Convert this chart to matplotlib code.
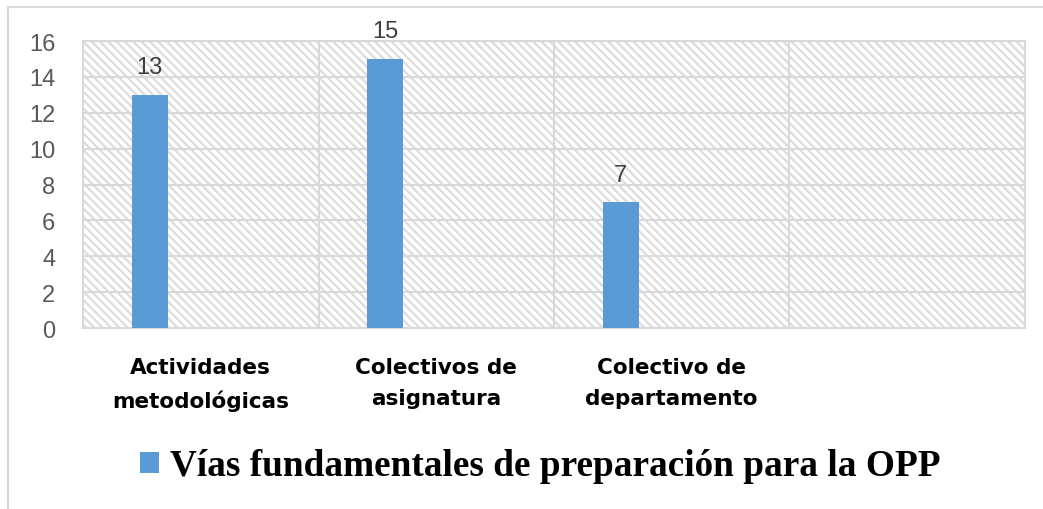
import matplotlib.pyplot as plt
from matplotlib import rcParams
from matplotlib.patches import Rectangle
from matplotlib.lines import Line2D
import numpy as np

rcParams['hatch.color'] = '#dcdcdc'
rcParams['hatch.linewidth'] = 1.6

categories = ['Actividades\nmetodológicas', 'Colectivos de\nasignatura', 'Colectivo de\ndepartamento', '']
values = [13, 15, 7, np.nan]
series_name = 'Vías fundamentales de preparación para la OPP'
y_ticks = [0, 2, 4, 6, 8, 10, 12, 14, 16]

bar_color = '#5b9bd5'
grid_color = '#d9d9d9'
text_color = '#595959'

fig = plt.figure(figsize=(10.43, 5.10), dpi=100)
ax = fig.add_axes([0.0796, 0.3549, 0.9031, 0.5627])

# hatched plot area background
ax.add_patch(Rectangle((0, 0), 1, 1, transform=ax.transAxes, facecolor='white',
                       hatch='\\\\\\\\', edgecolor='#dcdcdc', linewidth=0, zorder=0))

x = np.arange(len(categories))
offset = -0.217
bars = ax.bar(x + offset, values, width=0.153, color=bar_color, zorder=3, label=series_name)

for xi, v in zip(x, values):
    if np.isnan(v):
        continue
    ax.annotate(f'{v:g}', (xi + offset, v), xytext=(0, 12), textcoords='offset points',
                ha='center', va='bottom', fontsize=17, color='#404040',
                family=['Liberation Sans', 'DejaVu Sans'])

ax.set_xlim(-0.5, len(categories) - 0.5)
ax.set_ylim(0, 16)
ax.set_yticks(y_ticks)
ax.set_xticks(x)
ax.set_xticklabels(categories, fontsize=15.5, fontweight='bold', color='black',
                   family=['DejaVu Sans'], linespacing=1.7)
ax.set_xticks(np.arange(len(categories) + 1) - 0.5, minor=True)
ax.tick_params(axis='x', which='both', length=0, pad=21)
ax.tick_params(axis='y', length=0, pad=20, labelsize=17, labelcolor=text_color)
for lab in ax.get_yticklabels():
    lab.set_family(['Liberation Sans', 'DejaVu Sans'])

ax.grid(axis='y', color=grid_color, linewidth=1.5, zorder=1)
ax.grid(axis='x', which='minor', color=grid_color, linewidth=1.5, zorder=1)
ax.set_axisbelow(True)
for s in ax.spines.values():
    s.set_color(grid_color)
    s.set_linewidth(1.5)

leg = fig.legend(handles=[bars], labels=[series_name], loc='center',
                 bbox_to_anchor=(0.518, 1 - 467 / 510), frameon=False,
                 prop={'family': ['Liberation Serif', 'DejaVu Serif'], 'weight': 'bold', 'size': 26.8},
                 handlelength=0.5, handleheight=0.5, handletextpad=0.3)

# outer chart border (top and left visible)
fig.add_artist(Line2D([8 / 1043, 1], [1 - 8 / 510, 1 - 8 / 510], transform=fig.transFigure,
                      color='#d9d9d9', linewidth=1.5))
fig.add_artist(Line2D([8 / 1043, 8 / 1043], [0, 1 - 8 / 510], transform=fig.transFigure,
                      color='#d9d9d9', linewidth=1.5))

fig.savefig('out.png', dpi=100)
